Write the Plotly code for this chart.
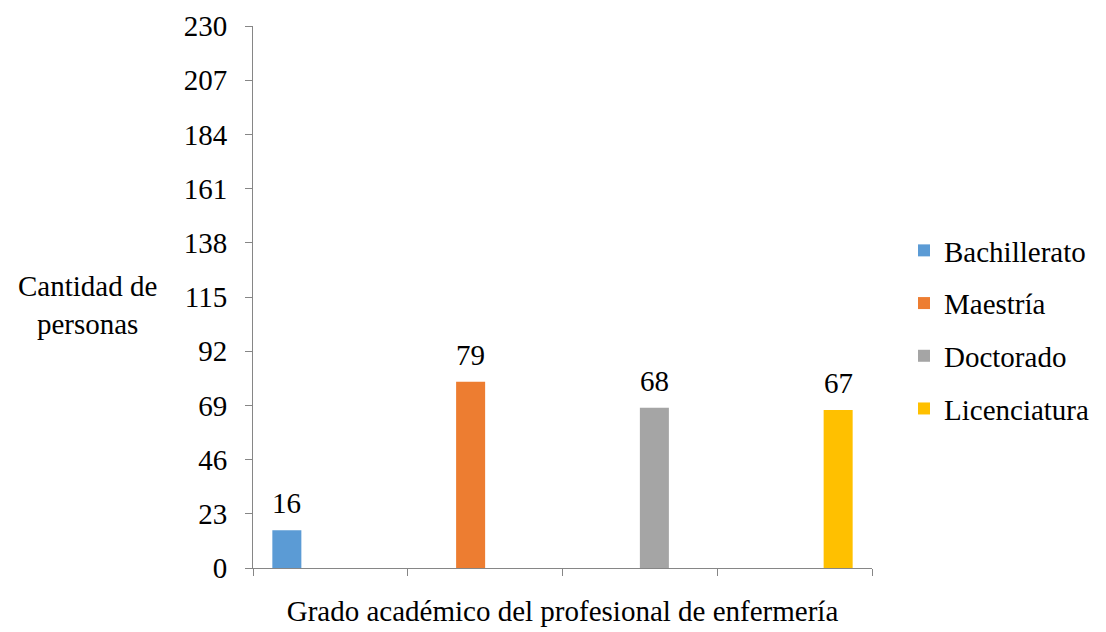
import plotly.graph_objects as go

categorias = ["Bachillerato", "Maestría", "Doctorado", "Licenciatura"]
valores = [16, 79, 68, 67]
colores = ["#5B9BD5", "#ED7D31", "#A5A5A5", "#FFC000"]
ticks_y = [0, 23, 46, 69, 92, 115, 138, 161, 184, 207, 230]

fuente = "Liberation Serif, Times New Roman, serif"
gris = "#868686"
tam = 29
hueco = 0.25
n = len(categorias)

fig = go.Figure()
# cada serie solo tiene valor en su propia categoría (como en Excel)
for i, nombre in enumerate(categorias):
    y = [valores[i] if j == i else None for j in range(n)]
    fig.add_trace(go.Bar(
        x=categorias, y=y, name=nombre,
        marker=dict(color=colores[i], line=dict(width=0)),
        legendgroup=nombre,
    ))

# etiquetas de datos sobre cada barra (posición del grupo según el hueco)
etiquetas = []
for i, v in enumerate(valores):
    etiquetas.append(dict(
        x=i + (i - (n - 1) / 2) * (1 - hueco) / n, y=v, xref="x", yref="y",
        text=str(v), showarrow=False, yanchor="bottom", yshift=9,
        font=dict(family=fuente, size=tam, color="black")))

etiquetas.append(dict(text="Cantidad de<br>personas", xref="paper", yref="paper",
                      x=-0.268, y=0.485, xanchor="center", yanchor="middle",
                      showarrow=False, align="center",
                      font=dict(family=fuente, size=tam, color="black")))

fig.update_layout(
    width=1098, height=624,
    barmode="group", bargap=hueco, bargroupgap=0,
    plot_bgcolor="white", paper_bgcolor="white",
    margin=dict(l=245, r=233, t=18, b=64),
    font=dict(family=fuente, size=tam, color="black"),
    showlegend=True,
    legend=dict(x=1.05, y=0.44, xanchor="left", yanchor="middle",
                font=dict(family=fuente, size=tam, color="black"),
                traceorder="grouped", tracegroupgap=12,
                itemclick=False),
    xaxis=dict(showticklabels=False, tickson="boundaries", ticks="outside",
               ticklen=7, tickcolor=gris, showline=True, linecolor=gris,
               linewidth=1, showgrid=False, zeroline=False, automargin=False,
               title=dict(text="Grado académico del profesional de enfermería",
                          font=dict(family=fuente, size=tam), standoff=32)),
    yaxis=dict(range=[0, 230], tickvals=ticks_y, ticks="outside", ticklen=7,
               tickcolor=gris, showline=True, linecolor=gris, linewidth=1,
               showgrid=False, zeroline=False, ticklabelstandoff=12,
               ticklabeloverflow="allow", automargin=False,
               tickfont=dict(family=fuente, size=tam)),
    annotations=etiquetas,
    hovermode=False,
)

fig.write_html("out.html")
